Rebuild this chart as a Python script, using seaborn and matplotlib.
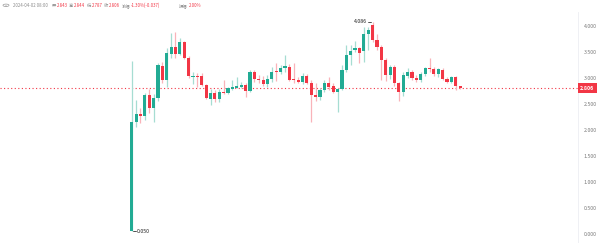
import numpy as np
import pandas as pd
import matplotlib
matplotlib.use("Agg")
import matplotlib.pyplot as plt
import matplotlib.transforms as mtransforms
from matplotlib.patches import Circle
import seaborn as sns

opens = [0.06, 2.16, 2.30, 2.26, 2.67, 2.42, 2.61, 3.24, 2.96, 3.47,
         3.60, 3.47, 3.70, 3.38, 3.02, 3.04, 3.03, 2.87, 2.60, 2.72,
         2.59, 2.74, 2.71, 2.79, 2.81, 2.83, 2.87, 2.75, 3.11, 2.98,
         2.96, 2.88, 2.99, 3.13, 3.11, 3.20, 3.22, 2.98, 2.96, 2.93,
         3.04, 2.90, 2.67, 2.64, 2.77, 2.90, 2.85, 2.74, 2.79, 3.15,
         3.44, 3.54, 3.57, 3.51, 3.85, 4.02, 3.73, 3.60, 3.35, 3.06,
         3.22, 2.90, 2.74, 3.03, 3.11, 3.00, 2.96, 3.07, 3.20, 3.17,
         3.07, 3.15, 2.98, 2.93, 3.01, 2.843]
highs = [3.33, 2.58, 2.42, 2.71, 2.79, 2.69, 3.29, 3.31, 3.57, 3.86,
         3.89, 3.77, 3.72, 3.42, 3.12, 3.09, 3.10, 2.89, 2.79, 2.77,
         2.79, 2.96, 2.83, 2.96, 3.02, 2.92, 2.90, 3.15, 3.15, 3.06,
         3.04, 3.06, 3.22, 3.28, 3.25, 3.44, 3.27, 3.28, 3.02, 3.09,
         3.07, 2.96, 2.90, 2.80, 2.96, 3.02, 2.90, 2.80, 3.25, 3.63,
         3.63, 3.72, 3.60, 3.99, 3.99, 4.086, 3.85, 3.63, 3.38, 3.25,
         3.25, 2.93, 3.12, 3.19, 3.15, 3.06, 3.12, 3.22, 3.39, 3.22,
         3.19, 3.19, 3.02, 3.04, 3.04, 2.844]
lows = [0.05, 2.06, 2.13, 2.19, 2.32, 2.15, 2.56, 2.90, 2.83, 3.38,
        3.38, 3.45, 3.36, 3.00, 2.88, 2.83, 2.85, 2.60, 2.48, 2.54,
        2.54, 2.70, 2.69, 2.77, 2.80, 2.81, 2.64, 2.73, 2.93, 2.90,
        2.85, 2.82, 2.93, 2.94, 3.07, 3.12, 2.95, 2.90, 2.90, 2.88,
        2.88, 2.16, 2.56, 2.58, 2.74, 2.77, 2.71, 2.35, 2.77, 3.12,
        3.25, 3.50, 3.28, 3.31, 3.54, 3.70, 3.53, 2.96, 2.94, 2.98,
        2.84, 2.56, 2.65, 3.00, 2.96, 2.93, 2.93, 3.04, 3.12, 3.04,
        3.02, 2.96, 2.90, 2.90, 2.77, 2.787]
closes = [2.16, 2.30, 2.26, 2.67, 2.42, 2.61, 3.25, 2.96, 3.49, 3.60,
          3.47, 3.70, 3.38, 3.03, 3.04, 3.02, 2.87, 2.61, 2.72, 2.59,
          2.74, 2.71, 2.80, 2.82, 2.85, 2.87, 2.75, 3.12, 2.98, 2.96,
          2.88, 2.99, 3.12, 3.11, 3.20, 3.24, 2.97, 2.96, 2.93, 3.04,
          2.90, 2.67, 2.64, 2.77, 2.90, 2.83, 2.74, 2.79, 3.15, 3.44,
          3.52, 3.57, 3.49, 3.85, 3.92, 3.73, 3.60, 3.35, 3.06, 3.22,
          2.90, 2.74, 3.06, 3.12, 3.00, 2.96, 3.07, 3.20, 3.17, 3.07,
          3.17, 2.98, 2.93, 3.01, 2.84, 2.806]

y_ticks = [0.0, 0.5, 1.0, 1.5, 2.0, 2.5, 3.0, 3.5, 4.0]
header_time = "2024-04-02 08:00"
header_items = [("开", "2.843"), ("高", "2.844"), ("低", "2.787"), ("收", "2.806"),
                ("涨幅", "-1.30%(-0.037)"), ("振幅", "2.00%")]
last_price = 2.806

GREEN = "#22ab94"
RED = "#f23645"
GREEN_W = "#a6ddd2"
RED_W = "#f9b3b9"
GREY = "#8a8a8a"

sns.set_theme(style="white")
plt.rcParams['font.family'] = ['Noto Sans CJK SC', 'DejaVu Sans']

df = pd.DataFrame({"o": opens, "h": highs, "l": lows, "c": closes})
df["i"] = np.arange(len(df))
df["up"] = df["c"] >= df["o"]

W, H = 600, 243
fig = plt.figure(figsize=(W / 100, H / 100), dpi=100)
ax = fig.add_axes([0, 0, 578 / W, (243 - 12) / H])

ax.set_xlim(-30.07, 101.9)
ax.set_ylim(-0.173, 4.269)

wick_colors = np.where(df["up"], GREEN_W, RED_W)
body_colors = np.where(df["up"], GREEN, RED)
ax.vlines(df["i"], df["l"], df["h"], colors=wick_colors, lw=0.9, zorder=2)
bottoms = np.minimum(df["o"], df["c"])
heights = np.maximum(np.abs(df["c"] - df["o"]), 0.015)
ax.bar(df["i"], heights, bottom=bottoms, width=0.72, color=body_colors,
       linewidth=0, zorder=3)

ax.axhline(last_price, color=RED, lw=0.8, ls=(0, (1, 2.2)), zorder=1)

# high / low markers
imax = int(df["h"].idxmax())
imin = int(df["l"].idxmin())
ax.plot([imax - 1.0, imax - 0.4], [df["h"][imax]] * 2, color="#333333", lw=0.6)
ax.text(imax - 1.2, df["h"][imax], f"{df['h'][imax]:.3f}", ha="right", va="center",
        fontsize=3.8, color="#222222")
ax.plot([imin + 0.4, imin + 1.0], [df["l"][imin]] * 2, color="#333333", lw=0.6)
ax.text(imin + 1.2, df["l"][imin], f"{df['l'][imin]:.3f}", ha="left", va="center",
        fontsize=3.8, color="#222222")

ax.yaxis.tick_right()
ax.set_yticks(y_ticks)
ax.set_yticklabels([f"{t:.3f}" for t in y_ticks])
ax.tick_params(axis="y", length=0, labelsize=3.8, labelcolor="#7a7a7a", pad=4.3)
ax.set_xticks([])
for s in ["top", "left", "bottom"]:
    ax.spines[s].set_visible(False)
ax.spines["right"].set_color("#eceef2")
ax.spines["right"].set_linewidth(0.6)
ax.grid(False)

tr = mtransforms.blended_transform_factory(ax.transAxes, ax.transData)
ax.text(1.004, last_price, f"{last_price:.3f}", transform=tr, ha="left", va="center",
        fontsize=3.8, color="white", fontweight="bold",
        bbox=dict(boxstyle="square,pad=0.5", fc=RED, ec="none"), clip_on=False)

# header
fy = 1 - 5.3 / H
fs = 3.1
fig.patches.append(Circle((6 / W, fy), 3.0 / W, transform=fig.transFigure,
                          fill=False, ec="#9a9a9a", lw=0.5))
fig.text(6 / W, fy - 0.3 / H, "v", ha="center", va="center", fontsize=2.6,
         color="#9a9a9a", family="DejaVu Sans")
fig.text(13 / W, fy, header_time, ha="left", va="center", fontsize=fs, color=GREY)
xpos = [(52, 57), (69, 74), (87, 92), (104, 109), (122, 131), (179, 189)]
for (lab, val), (xl, xv) in zip(header_items, xpos):
    fig.text(xl / W, fy, lab, ha="left", va="center", fontsize=fs, color=GREY)
    fig.text(xv / W, fy, val, ha="left", va="center", fontsize=fs, color=RED)

fig.savefig("out.png", dpi=100, facecolor="white")
